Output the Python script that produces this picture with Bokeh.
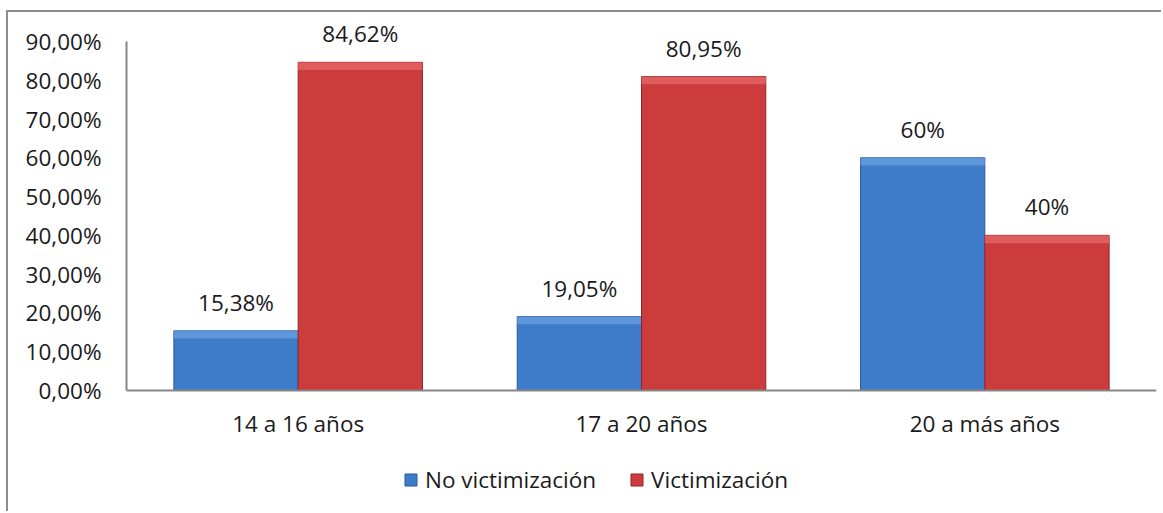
from bokeh.plotting import figure
from bokeh.models import ColumnDataSource, FactorRange, FixedTicker, LabelSet, Legend, LegendItem, Range1d
from bokeh.core.properties import value
from bokeh.transform import dodge
from bokeh.embed import file_html
from bokeh.resources import INLINE

categories = ["14 a 16 años", "17 a 20 años", "20 a más años"]
no_vict = [15.38, 19.05, 60.0]
vict = [84.62, 80.95, 40.0]
no_vict_labels = ["15,38%", "19,05%", "60%"]
vict_labels = ["84,62%", "80,95%", "40%"]
y_ticks = [0, 10, 20, 30, 40, 50, 60, 70, 80, 90]
y_tick_labels = ["0,00%", "10,00%", "20,00%", "30,00%", "40,00%", "50,00%", "60,00%", "70,00%", "80,00%", "90,00%"]
series_names = ["No victimización", "Victimización"]

FONT = "Open Sans"
FS = "22.5px"
BAR_W = 0.362
BEVEL = 2.0

src = ColumnDataSource(dict(
    cat=categories,
    nv=no_vict, v=vict,
    nv_hi=[max(a - BEVEL, 0) for a in no_vict],
    v_hi=[max(a - BEVEL, 0) for a in vict],
    nv_lab=no_vict_labels, v_lab=vict_labels,
))

# the frame fills the canvas; the value axis is bounded to 0..90
p = figure(
    x_range=FactorRange(*categories, range_padding=0),
    y_range=Range1d(-31.72, 97.47),
    width=1155, height=501,
    output_backend="svg", toolbar_location=None,
    min_border_left=118, min_border_right=7, min_border_top=0, min_border_bottom=0,
)
p.outline_line_color = None
p.grid.grid_line_color = None
p.background_fill_color = "white"
p.border_fill_color = "white"
p.styles = {"border-left": "2px solid #8c8c8c", "border-top": "2px solid #8c8c8c",
            "margin-top": "10px", "margin-left": "6px"}

series = [
    ("nv", "nv_hi", "nv_lab", -BAR_W / 2, "#3e7bc9", "#6a9fe0", "#2a5a98"),
    ("v", "v_hi", "v_lab", BAR_W / 2, "#cc3c3c", "#e66868", "#8f2626"),
]
renderers = []
for col, hi, lab, off, fill, light, edge in series:
    r = p.vbar(x=dodge("cat", off, range=p.x_range), top=col, bottom=0, width=BAR_W,
               source=src, fill_color=fill, line_color=edge, line_width=1)
    renderers.append(r)
    p.vbar(x=dodge("cat", off, range=p.x_range), top=col, bottom=hi, width=BAR_W,
           source=src, fill_color=light, line_color=None, fill_alpha=0.75)
    labels = LabelSet(x=dodge("cat", off, range=p.x_range), y=col, text=lab, source=src,
                      text_align="center", text_baseline="bottom", y_offset=13,
                      text_font=value(FONT), text_font_size=FS, text_color="#1a1a1a")
    p.add_layout(labels)

p.yaxis.ticker = FixedTicker(ticks=y_ticks)
p.yaxis.major_label_overrides = {t: l for t, l in zip(y_ticks, y_tick_labels)}
p.yaxis.bounds = (0, 90)
p.xaxis.fixed_location = 0
for ax in (p.xaxis[0], p.yaxis[0]):
    ax.axis_line_color = "#868686"
    ax.axis_line_width = 2
    ax.major_tick_line_color = None
    ax.minor_tick_line_color = None
    ax.major_label_text_font = FONT
    ax.major_label_text_font_size = FS
    ax.major_label_text_color = "#1a1a1a"
p.yaxis.major_label_standoff = 19
p.xaxis.major_label_standoff = 12

legend = Legend(
    items=[LegendItem(label=n, renderers=[r]) for n, r in zip(series_names, renderers)],
    orientation="horizontal", location=(277, 18),
    label_text_font=FONT, label_text_font_size=FS, label_text_color="#1a1a1a",
    glyph_width=15, glyph_height=15, spacing=33, border_line_color=None,
    background_fill_alpha=0, margin=0, padding=0, label_standoff=7,
)
p.add_layout(legend, "center")

open("out.html", "w").write(file_html(p, INLINE))
